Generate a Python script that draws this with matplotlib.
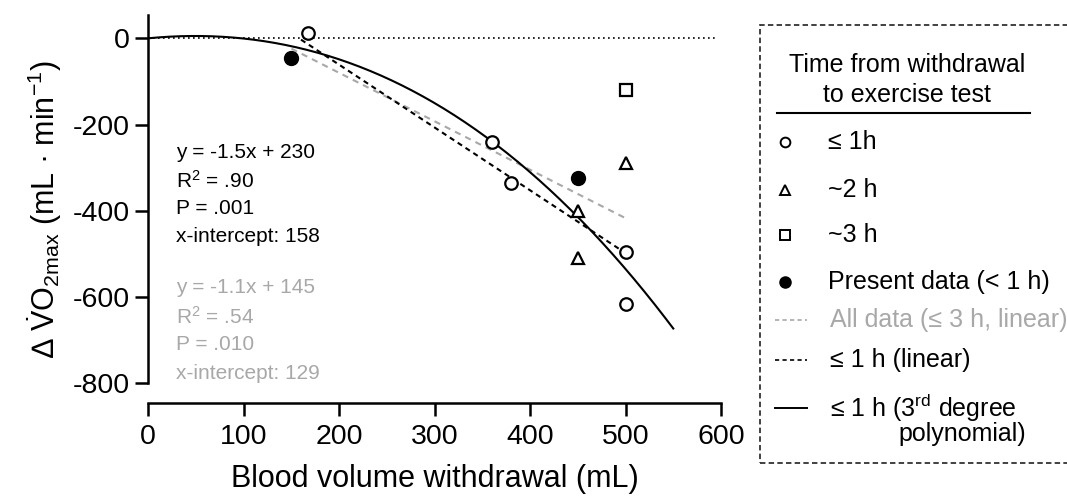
import numpy as np
import matplotlib
matplotlib.use("Agg")
import matplotlib.pyplot as plt
from matplotlib.lines import Line2D
from matplotlib.patches import Rectangle

plt.rcParams['font.family'] = ['Liberation Sans', 'DejaVu Sans']
plt.rcParams['mathtext.fontset'] = 'custom'
plt.rcParams['mathtext.rm'] = 'Liberation Sans'
plt.rcParams['mathtext.it'] = 'Liberation Sans:italic'
plt.rcParams['mathtext.bf'] = 'Liberation Sans:bold'
plt.rcParams['axes.unicode_minus'] = False

# data (blood withdrawn mL, change in VO2max mL/min)
x_1h = [167, 360, 380, 500, 500]
y_1h = [12, -240, -335, -495, -615]
x_2h = [450, 450, 500]
y_2h = [-400, -510, -290]
x_3h = [500]
y_3h = [-120]
x_present = [150, 450]
y_present = [-45, -323]

# fit ranges
lin_all_range = [150, 500]
lin_1h_range = [160, 500]
poly_range = [0, 550]

fit_1h = ["y = -1.5x + 230", "R$^2$ = .90", "P = .001", "x-intercept: 158"]
fit_all = ["y = -1.1x + 145", "R$^2$ = .54", "P = .010", "x-intercept: 129"]

grey = '#a8a8a8'

W, H = 1067, 500
fig = plt.figure(figsize=(W / 100, H / 100), dpi=100)
ax = fig.add_axes([148.3 / W, 1 - 402.7 / H, (721 - 148.3) / W, (402.7 - 15) / H])

# fits
xa = np.array(x_1h + x_2h + x_3h + x_present, dtype=float)
ya = np.array(y_1h + y_2h + y_3h + y_present, dtype=float)
xs = np.array(x_1h + x_present, dtype=float)
ys = np.array(y_1h + y_present, dtype=float)

p_all = np.polyfit(xa, ya, 1)
p_1h = np.polyfit(xs, ys, 1)
A = np.column_stack([xs, xs ** 2, xs ** 3])
c3 = np.linalg.lstsq(A, ys, rcond=None)[0]

ax.plot([0, 597], [0, 0], color='black', lw=1.2, ls=(0, (1, 2)), zorder=1)

xl = np.array(lin_all_range, dtype=float)
ax.plot(xl, np.polyval(p_all, xl), color=grey, lw=1.5, ls=(0, (3, 2.5)), zorder=2)
xl = np.array(lin_1h_range, dtype=float)
ax.plot(xl, np.polyval(p_1h, xl), color='black', lw=1.5, ls=(0, (2.5, 2)), zorder=2)
xc = np.linspace(poly_range[0], poly_range[1], 200)
ax.plot(xc, c3[0] * xc + c3[1] * xc ** 2 + c3[2] * xc ** 3, color='black', lw=1.5, zorder=3)

ax.plot(x_1h, y_1h, 'o', ms=9, mfc='white', mec='black', mew=1.6, zorder=4)
ax.plot(x_2h, y_2h, '^', ms=9, mfc='white', mec='black', mew=1.6, zorder=4)
ax.plot(x_3h, y_3h, 's', ms=9, mfc='white', mec='black', mew=1.6, zorder=4)
ax.plot(x_present, y_present, 'o', ms=10, mfc='black', mec='black', zorder=4)

# annotations
for i, t in enumerate(fit_1h):
    ax.text(29, -265 - 65 * i, t, fontsize=15, va='center', ha='left', color='black')
for i, t in enumerate(fit_all):
    ax.text(29, -579 - 66 * i, t, fontsize=15, va='center', ha='left', color=grey)

ax.set_xlim(0, 600)
ax.set_ylim(-845, 54)
ax.set_xticks([0, 100, 200, 300, 400, 500, 600])
ax.set_yticks([0, -200, -400, -600, -800])
ax.spines['top'].set_visible(False)
ax.spines['right'].set_visible(False)
ax.spines['left'].set_bounds(-800, 54)
ax.spines['left'].set_linewidth(1.8)
ax.spines['bottom'].set_linewidth(1.8)
ax.tick_params(direction='out', length=9.5, width=1.8, labelsize=20.5, pad=4)
ax.tick_params(axis='x', pad=6)
ax.set_xlabel('Blood volume withdrawal (mL)', fontsize=22, labelpad=10)
ax.set_ylabel('∆ $\\dot{\\mathrm{V}}\\mathrm{O}_{2\\mathrm{max}}$ (mL · min$^{-1}$)', fontsize=22, labelpad=6)


# legend drawn in figure pixels
def fx(px):
    return px / W


def fy(py):
    return 1 - py / H


fig.add_artist(Rectangle((fx(760), fy(463)), fx(1080) - fx(760), fy(25) - fy(463),
                         transform=fig.transFigure, fill=False, ec='#333333', lw=1.3, ls=(0, (3, 1.8))))
fig.text(fx(907), fy(65), 'Time from withdrawal', fontsize=18, ha='center', va='center')
fig.text(fx(907), fy(95), 'to exercise test', fontsize=18, ha='center', va='center')
fig.add_artist(Line2D([fx(777), fx(1030)], [fy(113), fy(113)], transform=fig.transFigure, color='black', lw=1.5))

entries = [
    (142, dict(marker='o', ms=7, mfc='white', mec='black', mew=1.4, ls='none'), '≤ 1h', 'black'),
    (190, dict(marker='^', ms=7, mfc='white', mec='black', mew=1.4, ls='none'), '~2 h', 'black'),
    (235, dict(marker='s', ms=7, mfc='white', mec='black', mew=1.4, ls='none'), '~3 h', 'black'),
    (282, dict(marker='o', ms=8, mfc='black', mec='black', ls='none'), 'Present data (< 1 h)', 'black'),
]
for py, style, label, col in entries:
    fig.add_artist(Line2D([fx(785)], [fy(py)], transform=fig.transFigure, **style))
    fig.text(fx(828), fy(py), label, fontsize=18, ha='left', va='center', color=col)

lines = [
    (320, dict(color=grey, lw=1.2, ls=(0, (2.5, 2))), 'All data (≤ 3 h, linear)', grey),
    (360, dict(color='black', lw=1.2, ls=(0, (2.5, 2))), '≤ 1 h (linear)', 'black'),
    (408, dict(color='black', lw=1.4, ls='-'), '≤ 1 h (3$^{\\mathrm{rd}}$ degree', 'black'),
]
for py, style, label, col in lines:
    fig.add_artist(Line2D([fx(775), fx(807)], [fy(py), fy(py)], transform=fig.transFigure, **style))
    fig.text(fx(830), fy(py), label, fontsize=18, ha='left', va='center', color=col)
fig.text(fx(898), fy(434), 'polynomial)', fontsize=18, ha='left', va='center')

fig.savefig('out.png', dpi=100)
